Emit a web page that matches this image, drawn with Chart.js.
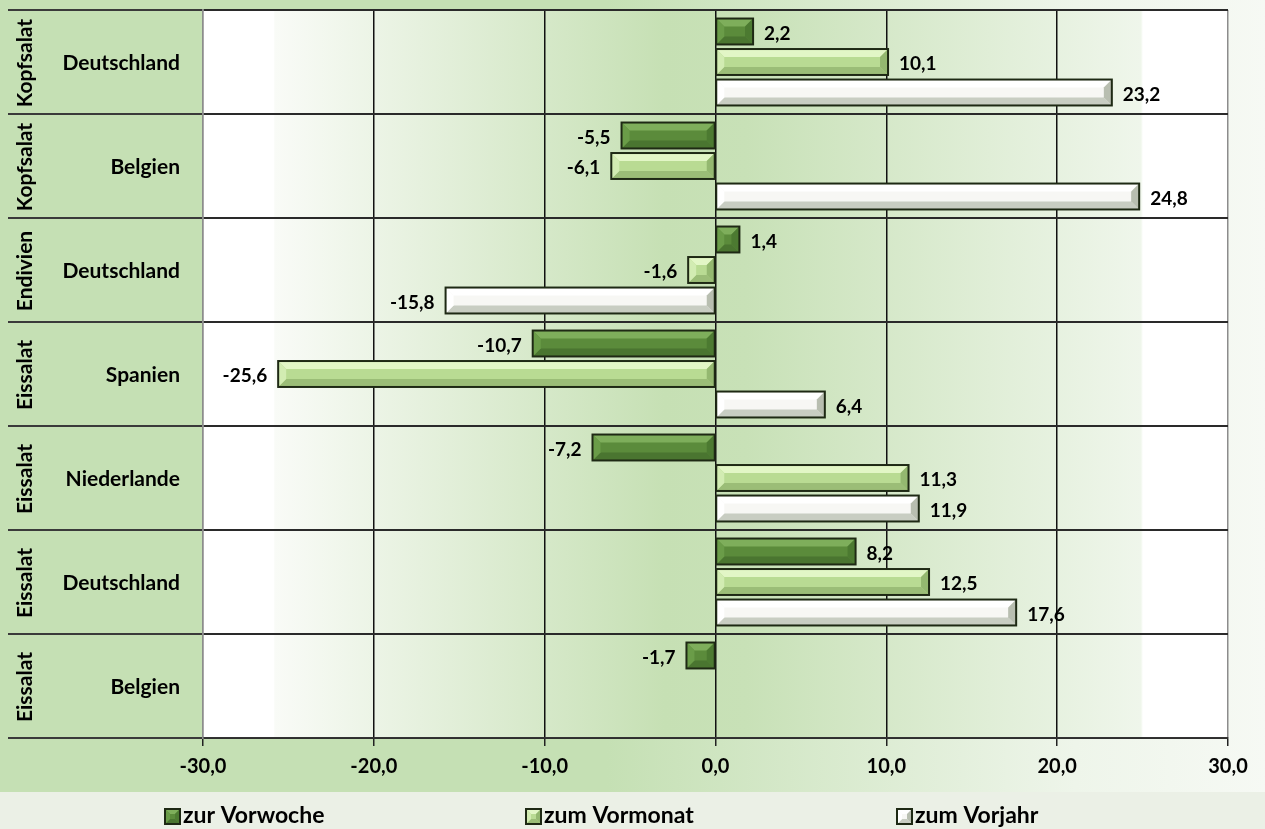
<!DOCTYPE html>
<html>
<head>
<meta charset="utf-8">
<script src="https://cdn.jsdelivr.net/npm/chart.js@4"></script>
<style>
  html, body { margin: 0; padding: 0; background: #c5e0b4; }
  #wrap { width: 1265px; height: 829px; position: relative; }
</style>
</head>
<body>
<div id="wrap"><canvas id="salatChart"></canvas></div>
<script>
// Data
const products = ['Kopfsalat', 'Kopfsalat', 'Endivien', 'Eissalat', 'Eissalat', 'Eissalat', 'Eissalat'];
const countries = ['Deutschland', 'Belgien', 'Deutschland', 'Spanien', 'Niederlande', 'Deutschland', 'Belgien'];
const seriesNames = ['zur Vorwoche', 'zum Vormonat', 'zum Vorjahr'];
const vorwoche = [2.2, -5.5, 1.4, -10.7, -7.2, 8.2, -1.7];
const vormonat = [10.1, -6.1, -1.6, -25.6, 11.3, 12.5, null];
const vorjahr = [23.2, 24.8, -15.8, 6.4, 11.9, 17.6, null];
const xTicks = [-30, -20, -10, 0, 10, 20, 30];

const FONT = 'Lato, "Open Sans", sans-serif';

// bevel colours per series
const bevels = [
    { face: '#5b8b3b', top: '#7eae5b', left: '#6a9c48', bottom: '#4a7530', right: '#4c7a31' },
    { face: '#b9db93', top: '#e2f6c6', left: '#d2ecb2', bottom: '#9bbd77', right: '#94b870' },
    { face: '#f7f7f4', top: '#ffffff', left: '#ffffff', bottom: '#c8cdc2', right: '#b8beb0' }
];
const legendX = [165, 526, 897];

function fmt(v) {
    return v.toFixed(1).replace('.', ',');
}

function poly(ctx, pts, color) {
    ctx.beginPath();
    ctx.moveTo(pts[0][0], pts[0][1]);
    for (let i = 1; i < pts.length; i++) ctx.lineTo(pts[i][0], pts[i][1]);
    ctx.closePath();
    ctx.fillStyle = color;
    ctx.fill();
}

// Draw one bevelled box
function bevelBox(ctx, l, t, r, b, c, size) {
    const w = r - l, h = b - t;
    const d = Math.min(size, w / 2, h / 2);
    ctx.fillStyle = c.face;
    ctx.fillRect(l, t, w, h);
    poly(ctx, [[l, t], [r, t], [r - d, t + d], [l + d, t + d]], c.top);
    poly(ctx, [[l, b], [r, b], [r - d, b - d], [l + d, b - d]], c.bottom);
    poly(ctx, [[l, t], [l + d, t + d], [l + d, b - d], [l, b]], c.left);
    poly(ctx, [[r, t], [r - d, t + d], [r - d, b - d], [r, b]], c.right);
    ctx.lineWidth = 2;
    ctx.strokeStyle = '#1e2914';
    ctx.strokeRect(l, t, w, h);
}

const backgroundPlugin = {
    id: 'bg',
    beforeDraw(chart) {
        const ctx = chart.ctx;
        const { width, height, chartArea: a } = chart;
        ctx.save();
        // outer background
        const g = ctx.createLinearGradient(0, 0, width, 0);
        g.addColorStop(0, '#c5e0b4');
        g.addColorStop(0.48, '#c5e0b4');
        g.addColorStop(0.85, '#eef5ea');
        g.addColorStop(1, '#f6f9f4');
        ctx.fillStyle = g;
        ctx.fillRect(0, 0, width, height);
        // legend band
        ctx.fillStyle = '#ebf0e6';
        ctx.fillRect(0, 792, width, height - 792);
        // plot area
        const pg = ctx.createLinearGradient(a.left, 0, a.right, 0);
        pg.addColorStop(0, '#ffffff');
        pg.addColorStop(0.069, '#ffffff');
        pg.addColorStop(0.07, '#f9fbf7');
        pg.addColorStop(0.45, '#c6e0b4');
        pg.addColorStop(0.53, '#c8e1b7');
        pg.addColorStop(0.915, '#eff6eb');
        pg.addColorStop(0.917, '#ffffff');
        pg.addColorStop(1, '#ffffff');
        ctx.fillStyle = pg;
        ctx.fillRect(a.left, a.top, a.right - a.left, a.bottom - a.top);
        ctx.restore();
    }
};

const barPlugin = {
    id: 'bevelBars',
    afterDatasetsDraw(chart) {
        const ctx = chart.ctx;
        ctx.save();
        chart.data.datasets.forEach((ds, di) => {
            const meta = chart.getDatasetMeta(di);
            meta.data.forEach((el, i) => {
                const v = ds.data[i];
                if (v === null || v === undefined) return;
                const p = el.getProps(['x', 'y', 'base', 'height'], true);
                const l = Math.min(p.x, p.base), r = Math.max(p.x, p.base);
                const t = p.y - p.height / 2, b = p.y + p.height / 2;
                bevelBox(ctx, l, t, r, b, bevels[di], 8);
                // value label
                ctx.font = 'bold 19px ' + FONT;
                ctx.fillStyle = '#000';
                ctx.textBaseline = 'middle';
                if (v >= 0) {
                    ctx.textAlign = 'left';
                    ctx.fillText(fmt(v), r + 11, p.y + 2);
                } else {
                    ctx.textAlign = 'right';
                    ctx.fillText(fmt(v), l - 11, p.y + 2);
                }
            });
        });
        ctx.restore();
    },
    afterDraw(chart) {
        const ctx = chart.ctx;
        const yScale = chart.scales.y;
        ctx.save();
        ctx.fillStyle = '#000';
        ctx.textBaseline = 'middle';
        // category labels
        countries.forEach((c, i) => {
            const y = yScale.getPixelForValue(i);
            ctx.font = 'bold 21px ' + FONT;
            ctx.textAlign = 'right';
            ctx.fillText(c, 180, y + 1);
            ctx.save();
            ctx.translate(25, y + 1);
            ctx.rotate(-Math.PI / 2);
            ctx.textAlign = 'center';
            ctx.fillText(products[i], 0, 0);
            ctx.restore();
        });
        // legend
        seriesNames.forEach((name, i) => {
            const x = legendX[i];
            bevelBox(ctx, x, 809, x + 15, 824, bevels[i], 5);
            ctx.fillStyle = '#000';
            ctx.font = 'bold 23px ' + FONT;
            ctx.textAlign = 'left';
            ctx.fillText(name, x + 18, 816);
        });
        ctx.restore();
    }
};

const ctx = document.getElementById('salatChart').getContext('2d');
new Chart(ctx, {
    type: 'bar',
    data: {
        labels: products.map((p, i) => p + ' ' + countries[i]),
        datasets: [
            { label: seriesNames[0], data: vorwoche, backgroundColor: bevels[0].face, borderColor: '#1e2914', borderWidth: 2 },
            { label: seriesNames[1], data: vormonat, backgroundColor: bevels[1].face, borderColor: '#1e2914', borderWidth: 2 },
            { label: seriesNames[2], data: vorjahr, backgroundColor: bevels[2].face, borderColor: '#1e2914', borderWidth: 2 }
        ]
    },
    options: {
        indexAxis: 'y',
        responsive: true,
        maintainAspectRatio: false,
        animation: false,
        categoryPercentage: 0.88,
        barPercentage: 0.85,
        layout: { padding: { top: 10, right: 37, left: 0, bottom: 37 } },
        plugins: { legend: { display: false }, tooltip: { enabled: false } },
        scales: {
            x: {
                min: -30,
                max: 30,
                afterBuildTicks: s => { s.ticks = xTicks.map(v => ({ value: v })); },
                afterFit: s => { s.height = 54; s.paddingLeft = 0; s.paddingRight = 0; },
                ticks: {
                    callback: v => fmt(v),
                    color: '#000',
                    font: { family: FONT, size: 20, weight: 'bold' },
                    padding: 9
                },
                grid: {
                    color: c => (c.tick && Math.abs(c.tick.value) === 30) ? '#8c8c8c' : '#111',
                    lineWidth: 1.5,
                    tickLength: 8,
                    tickColor: '#222'
                },
                border: { color: '#333', width: 1.5 }
            },
            y: {
                afterFit: s => { s.width = 203; },
                ticks: { display: false },
                grid: {
                    offset: true,
                    color: '#2a2a2a',
                    lineWidth: 2,
                    drawTicks: true,
                    tickLength: 195,
                    tickColor: '#3a3a3a'
                },
                border: { color: '#8c8c8c', width: 1.5 }
            }
        }
    },
    plugins: [backgroundPlugin, barPlugin]
});
</script>
</body>
</html>
